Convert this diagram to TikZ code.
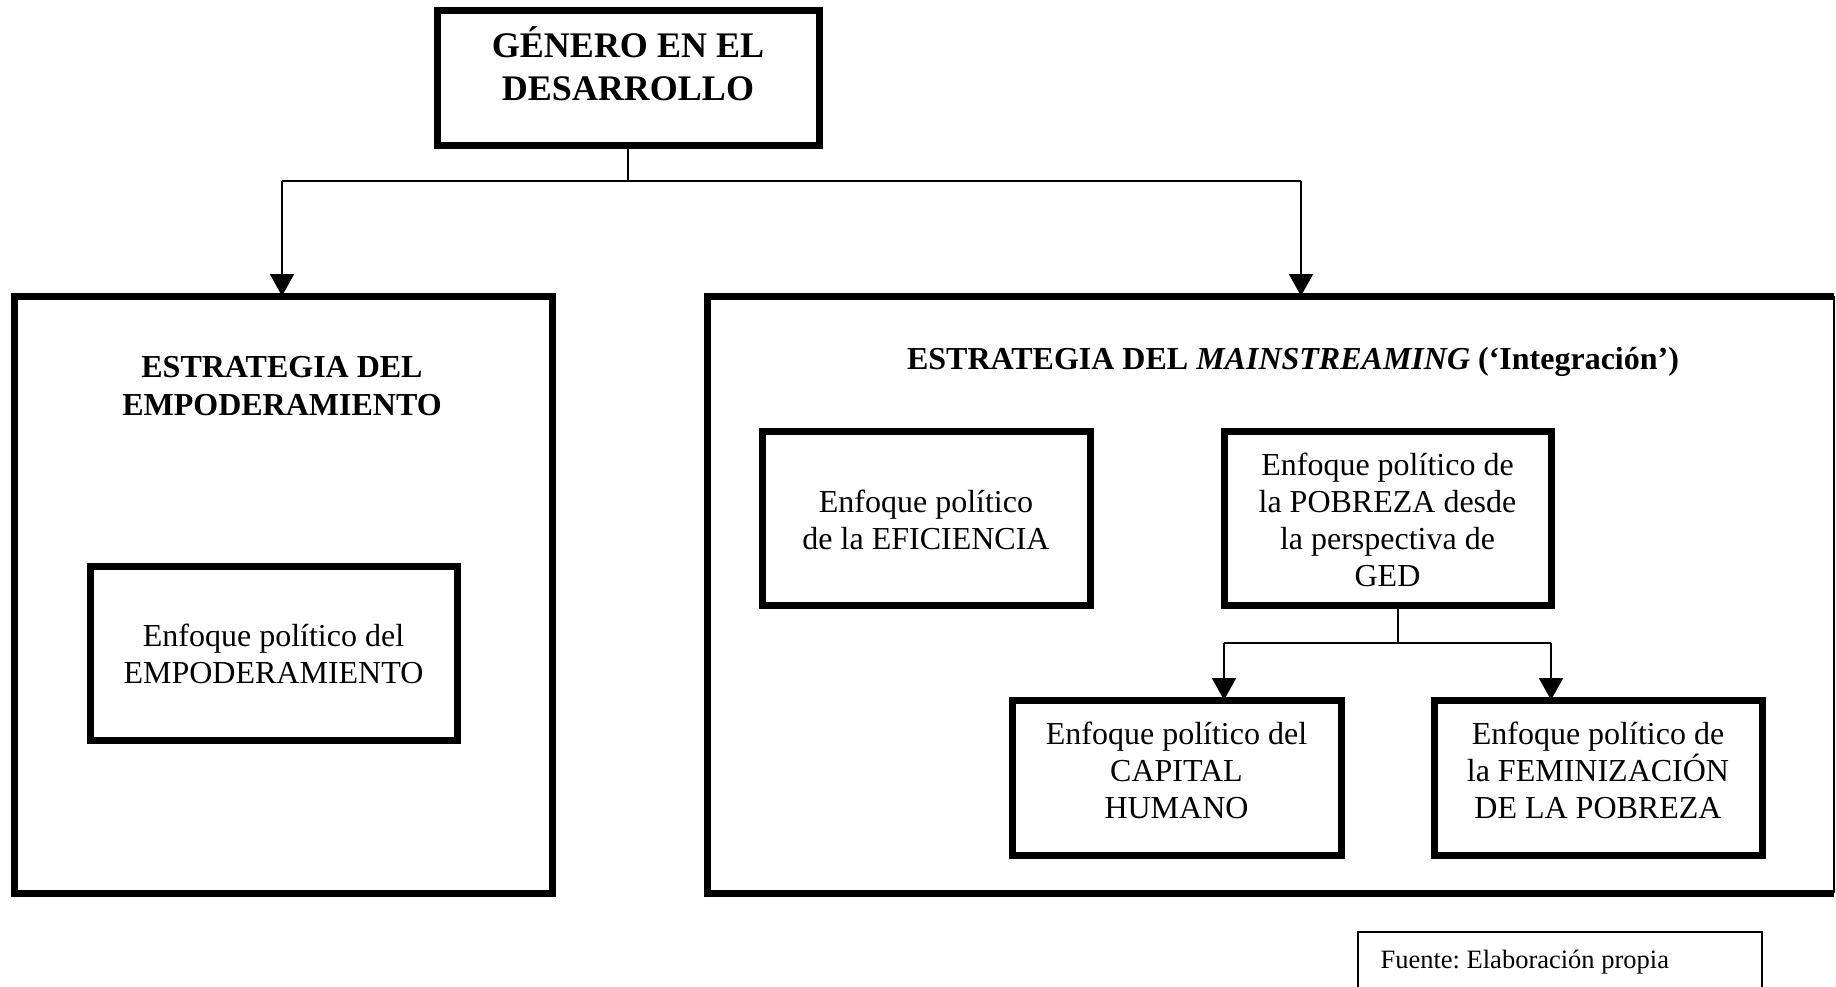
\documentclass[tikz,border=0pt]{standalone}
\usepackage{fontspec}
\setmainfont{Liberation Serif}
\frenchspacing
\usetikzlibrary{arrows.meta}
\tikzset{
  thickbox/.style={draw, line width=7pt, line join=miter, inner sep=0pt, outer sep=0pt},
  plainbox/.style={draw=none, inner sep=0pt, outer sep=0pt},
  bodytxt/.style={align=center, font=\fontsize{32}{37}\selectfont},
  titletxt/.style={align=center, font=\fontsize{32}{37.5}\selectfont\bfseries},
  conn/.style={line width=2pt},
  arr/.style={conn, -{Triangle[width=24pt,length=22pt]}},
  thinline/.style={line width=2pt}
}
\begin{document}
\begin{tikzpicture}[x=1pt,y=-1pt]
\useasboundingbox (0,0) rectangle (1836,986);
% top box
\node[thickbox, minimum width=382pt, minimum height=135pt] (top) at (628,77.5) {};
\node[align=center, font=\fontsize{36}{43}\selectfont\bfseries] (toptxt) at (628,64) {GÉNERO EN EL\\DESARROLLO};
% big boxes
\node[thickbox, minimum width=538pt, minimum height=597pt] (lbig) at (283,594.5) {};
\node[plainbox, minimum width=1127pt, minimum height=597pt] (rbig) at (1270.5,594.5) {};
\draw[line width=7pt, line join=miter] (rbig.north east) -- (rbig.north west) -- (rbig.south west) -- (rbig.south east);
\draw[thinline] (rbig.north east) -- (rbig.south east);
% titles
\node[titletxt] (ltitle) at (282,386) {ESTRATEGIA DEL\\EMPODERAMIENTO};
\node[titletxt] (rtitle) at (1293,362) {ESTRATEGIA DEL \textit{MAINSTREAMING} (‘Integración’)};
% inner boxes
\node[thickbox, minimum width=367pt, minimum height=174pt] (emp) at (273.5,653) {};
\node[bodytxt] (emptxt) at (273.5,654) {Enfoque político del\\EMPODERAMIENTO};
\node[thickbox, minimum width=328pt, minimum height=174pt] (efi) at (926,518) {};
\node[bodytxt] (efitxt) at (926,520) {Enfoque político\\de la EFICIENCIA};
\node[thickbox, minimum width=327pt, minimum height=174pt] (pob) at (1387.5,518) {};
\node[bodytxt] (pobtxt) at (1387.5,520) {Enfoque político de\\la POBREZA desde\\la perspectiva de\\GED};
\node[thickbox, minimum width=329pt, minimum height=155pt] (cap) at (1176.5,777.5) {};
\node[bodytxt] (captxt) at (1176.5,770) {Enfoque político del\\CAPITAL\\HUMANO};
\node[thickbox, minimum width=328pt, minimum height=155pt] (fem) at (1598,777.5) {};
\node[bodytxt] (femtxt) at (1598,770) {Enfoque político de\\la FEMINIZACIÓN\\DE LA POBREZA};
% fuente box
\node[plainbox, minimum width=404pt, minimum height=56pt] (fuente) at (1560,960) {};
\draw[thinline] (fuente.south west) -- (fuente.north west) -- (fuente.north east) -- (fuente.south east);
\node[anchor=west, font=\fontsize{26.5}{30}\selectfont] (fuentetxt) at (1377,962) {Fuente: Elaboración propia};
% connectors
\coordinate (j1) at (628,181);
\coordinate (jl) at (282,181);
\coordinate (jr) at (1301,181);
\draw[conn] (top.south) -- (j1);
\draw[conn] (jl) -- (jr);
\draw[arr] (jl) -- (jl |- lbig.north);
\draw[arr] (jr) -- (jr |- rbig.north);
\coordinate (j2) at (1398,643);
\coordinate (j2l) at (1224,643);
\coordinate (j2r) at (1551,643);
\draw[conn] (j2 |- pob.south) -- (j2);
\draw[conn] (j2l) -- (j2r);
\draw[arr] (j2l) -- (j2l |- cap.north);
\draw[arr] (j2r) -- (j2r |- fem.north);
\end{tikzpicture}
\end{document}
